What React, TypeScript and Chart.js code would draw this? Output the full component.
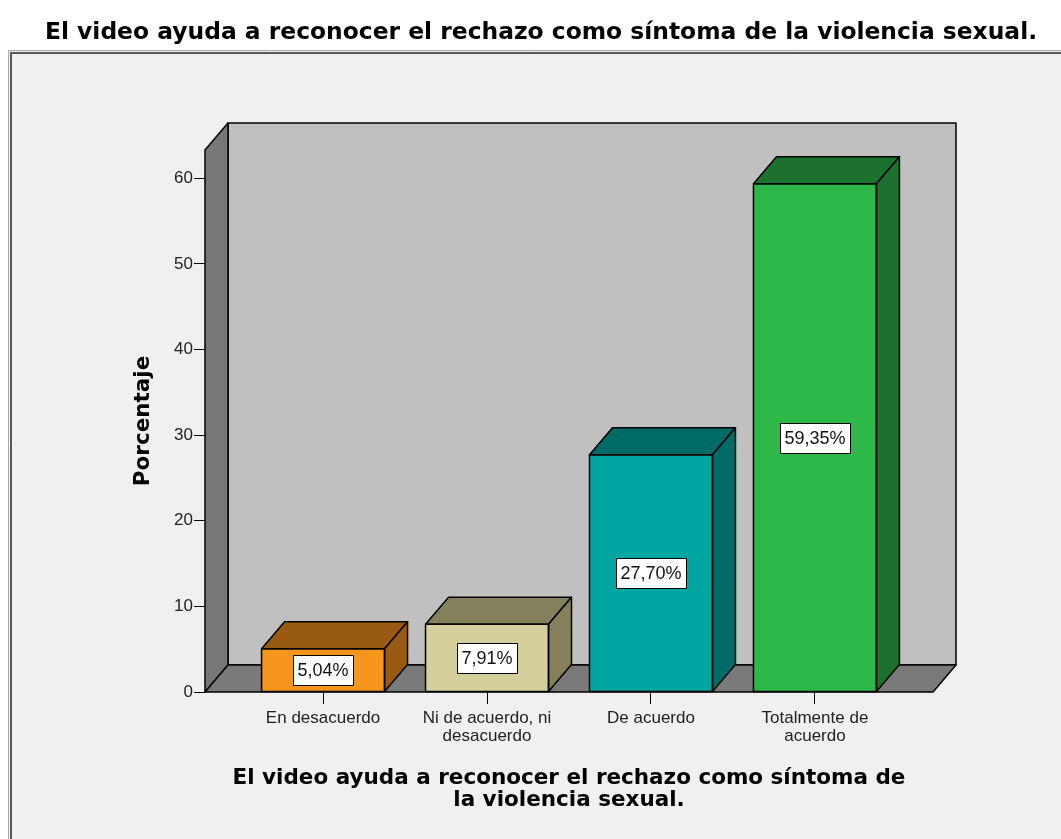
import React, { useEffect, useRef } from 'react';
import { Chart, registerables } from 'chart.js';

Chart.register(...registerables);

const TITLE = 'El video ayuda a reconocer el rechazo como síntoma de la violencia sexual.';
const X_TITLE = ['El video ayuda a reconocer el rechazo como síntoma de', 'la violencia sexual.'];
const Y_TITLE = 'Porcentaje';
const CATEGORIES: string[][] = [
  ['En desacuerdo'],
  ['Ni de acuerdo, ni', 'desacuerdo'],
  ['De acuerdo'],
  ['Totalmente de', 'acuerdo'],
];
const VALUES = [5.04, 7.91, 27.7, 59.35];
const FRONT_COLORS = ['#f7961d', '#d5d09b', '#00a6a1', '#2eb84a'];
const DARK_COLORS = ['#995a12', '#84805b', '#006a66', '#1d712e'];
const Y_MIN = 0;
const Y_MAX = 63.3;
const Y_STEP = 10;
const X_MIN = -0.72;
const X_MAX = 3.72;

const DEPTH_X = 23;
const DEPTH_Y = -27;
const TITLE_FONT = 'DejaVu Sans';
const TICK_FONT = 'Liberation Sans';

function poly(ctx: CanvasRenderingContext2D, pts: number[][], fill: string) {
  ctx.beginPath();
  ctx.moveTo(pts[0][0], pts[0][1]);
  for (let i = 1; i < pts.length; i++) ctx.lineTo(pts[i][0], pts[i][1]);
  ctx.closePath();
  ctx.fillStyle = fill;
  ctx.fill();
  ctx.strokeStyle = '#000';
  ctx.lineWidth = 1.5;
  ctx.lineJoin = 'round';
  ctx.stroke();
}

const panelPlugin = {
  id: 'panel',
  beforeDraw(chart: any) {
    const { ctx, width, height } = chart;
    ctx.save();
    ctx.fillStyle = '#ffffff';
    ctx.fillRect(0, 0, width, height);
    ctx.fillStyle = '#f0f0f0';
    ctx.fillRect(8, 50, width - 8, height - 50);
    ctx.strokeStyle = '#a8a8a8';
    ctx.lineWidth = 1;
    ctx.beginPath();
    ctx.moveTo(8.5, height);
    ctx.lineTo(8.5, 50.5);
    ctx.lineTo(width, 50.5);
    ctx.stroke();
    ctx.strokeStyle = '#5a5a5a';
    ctx.lineWidth = 2;
    ctx.beginPath();
    ctx.moveTo(11, height);
    ctx.lineTo(11, 53);
    ctx.lineTo(width, 53);
    ctx.stroke();
    ctx.restore();
  },
};

const box3dPlugin = {
  id: 'box3d',
  beforeDatasetsDraw(chart: any) {
    const { ctx } = chart;
    const { left: L, right: R, top: T, bottom: B } = chart.chartArea;
    ctx.save();
    poly(ctx, [[L + DEPTH_X, T + DEPTH_Y], [R + DEPTH_X, T + DEPTH_Y], [R + DEPTH_X, B + DEPTH_Y], [L + DEPTH_X, B + DEPTH_Y]], '#c0c0c0');
    poly(ctx, [[L, T], [L + DEPTH_X, T + DEPTH_Y], [L + DEPTH_X, B + DEPTH_Y], [L, B]], '#777777');
    poly(ctx, [[L, B], [L + DEPTH_X, B + DEPTH_Y], [R + DEPTH_X, B + DEPTH_Y], [R, B]], '#7a7a7a');
    ctx.restore();
  },
  afterDatasetsDraw(chart: any) {
    const { ctx } = chart;
    const meta = chart.getDatasetMeta(0);
    ctx.save();
    meta.data.forEach((bar: any, i: number) => {
      const { x, y, base, width } = bar.getProps(['x', 'y', 'base', 'width'], true);
      const xl = x - width / 2;
      const xr = x + width / 2;
      poly(ctx, [[xl, y], [xl + DEPTH_X, y + DEPTH_Y], [xr + DEPTH_X, y + DEPTH_Y], [xr, y]], DARK_COLORS[i]);
      poly(ctx, [[xr, y], [xr + DEPTH_X, y + DEPTH_Y], [xr + DEPTH_X, base + DEPTH_Y], [xr, base]], DARK_COLORS[i]);
      ctx.strokeStyle = '#000';
      ctx.lineWidth = 1.5;
      ctx.strokeRect(xl, y, width, base - y);
    });
    meta.data.forEach((bar: any, i: number) => {
      const { x, y, base } = bar.getProps(['x', 'y', 'base'], true);
      const text = VALUES[i].toFixed(2).replace('.', ',') + '%';
      ctx.font = `18px "${TICK_FONT}"`;
      const tw = ctx.measureText(text).width;
      const w = Math.round(tw + 9);
      const h = 30;
      const cx = x;
      const cy = (y + base) / 2;
      const bx = Math.round(cx - w / 2) + 0.5;
      const by = Math.round(cy - h / 2) + 0.5;
      ctx.fillStyle = '#ffffff';
      ctx.fillRect(bx, by, w, h);
      ctx.strokeStyle = '#000';
      ctx.lineWidth = 1;
      ctx.strokeRect(bx, by, w, h);
      ctx.fillStyle = '#111';
      ctx.textAlign = 'center';
      ctx.textBaseline = 'middle';
      ctx.fillText(text, cx, cy + 1);
    });
    ctx.restore();
  },
};

export default function App() {
  const canvasRef = useRef<HTMLCanvasElement | null>(null);

  useEffect(() => {
    document.body.style.margin = '0';
    document.body.style.overflow = 'hidden';
    const canvas = canvasRef.current;
    if (!canvas) return;
    const chart = new Chart(canvas, {
      type: 'bar',
      data: {
        datasets: [
          {
            data: VALUES.map((v, i) => ({ x: i, y: v })),
            backgroundColor: FRONT_COLORS,
            borderColor: '#000',
            borderWidth: 0,
            categoryPercentage: 0.75,
            barPercentage: 1,
          } as any,
        ],
      },
      options: {
        responsive: false,
        animation: false,
        devicePixelRatio: 1,
        layout: { padding: { left: 21, right: 0, top: 0, bottom: 0 } },
        plugins: {
          legend: { display: false },
          tooltip: { enabled: false },
          title: {
            display: true,
            text: TITLE,
            color: '#000',
            font: { family: TITLE_FONT, size: 23.4, weight: 'bold', lineHeight: 1.2 },
            padding: { top: 19, bottom: 102.9 },
          },
        },
        scales: {
          x: {
            type: 'linear',
            min: X_MIN,
            max: X_MAX,
            offset: false,
            afterBuildTicks: (s: any) => {
              s.ticks = CATEGORIES.map((_, i) => ({ value: i }));
            },
            afterFit: (s: any) => {
              s.height = 147;
            },
            grid: { drawOnChartArea: false, drawTicks: true, tickLength: 12, color: '#000', lineWidth: 1, offset: false },
            border: { display: false },
            ticks: {
              autoSkip: false,
              maxRotation: 0,
              minRotation: 0,
              padding: 5,
              color: '#222',
              font: { family: TICK_FONT, size: 17, lineHeight: '18px' },
              callback: (v: any) => CATEGORIES[v] ?? '',
            },
            title: {
              display: true,
              text: X_TITLE,
              color: '#000',
              font: { family: TITLE_FONT, size: 21.5, weight: 'bold', lineHeight: '22px' },
              padding: { top: 0, bottom: 28 },
            },
          },
          y: {
            type: 'linear',
            min: Y_MIN,
            max: Y_MAX,
            afterFit: (s: any) => {
              s.width = 184;
            },
            grid: { drawOnChartArea: false, drawTicks: true, tickLength: 11, color: '#000', lineWidth: 1 },
            border: { display: false },
            ticks: {
              stepSize: Y_STEP,
              includeBounds: false,
              padding: 1,
              color: '#222',
              font: { family: TICK_FONT, size: 17 },
            },
            title: {
              display: true,
              text: Y_TITLE,
              color: '#000',
              font: { family: TITLE_FONT, size: 21.5, weight: 'bold', lineHeight: '22px' },
              padding: { top: 111, bottom: 0 },
            },
          },
          yRight: {
            type: 'linear',
            position: 'right',
            display: true,
            grid: { display: false },
            border: { display: false },
            ticks: { display: false },
            afterFit: (s: any) => {
              s.width = 128;
            },
          },
        },
      } as any,
      plugins: [panelPlugin, box3dPlugin],
    });
    return () => chart.destroy();
  }, []);

  return <canvas ref={canvasRef} width={1061} height={839} style={{ display: 'block' }} />;
}
